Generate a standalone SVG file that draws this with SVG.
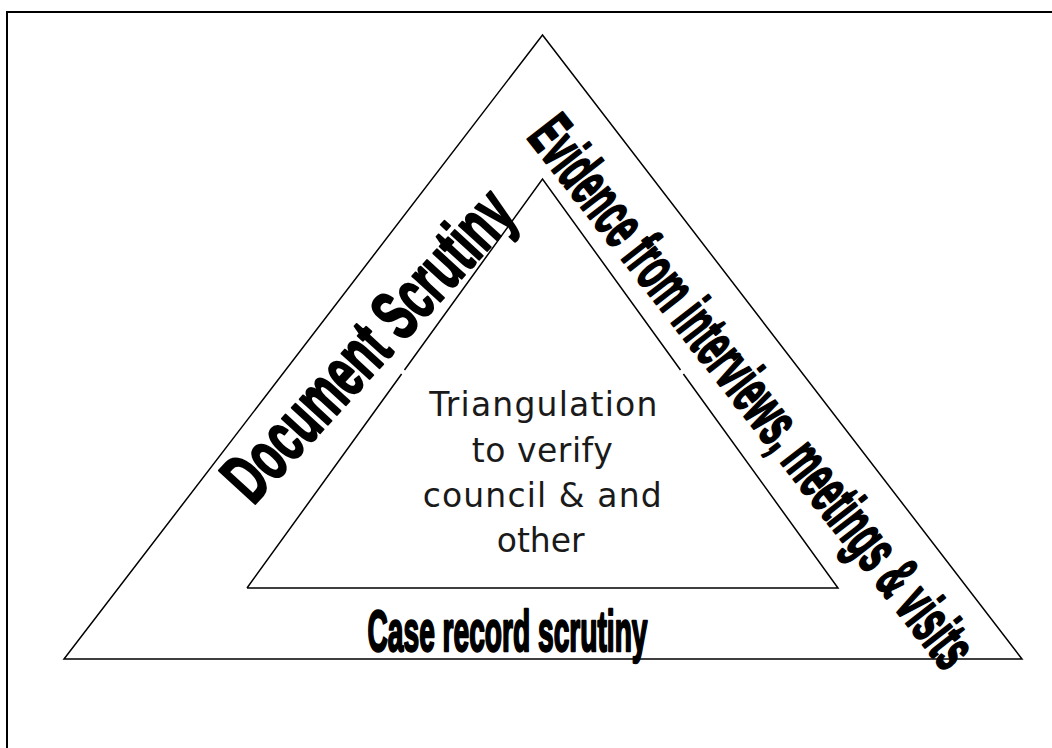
<svg xmlns="http://www.w3.org/2000/svg" width="1052" height="748" viewBox="0 0 1052 748">
  <style>
    .frame { fill: none; stroke: #000; stroke-width: 2; }
    .tri { fill: none; stroke: #000; stroke-width: 1.5; stroke-linejoin: miter; }
    .bold { font-family: "Liberation Sans", Arial, sans-serif; font-weight: bold; fill: #000; stroke: #000; stroke-width: 2.4; stroke-linejoin: round; }
    .body { font-family: "DejaVu Sans", Verdana, sans-serif; font-size: 33px; fill: #1a1a1a; }
  </style>
  <rect width="1052" height="748" fill="#fff"/>
  <path class="frame" d="M7,748 V12 H1052"/>
  <g id="outer-triangle">
    <polygon class="tri" points="542.5,35 1022,659 64,659"/>
  </g>
  <g id="inner-triangle">
    <path class="tri" d="M247,588 L401.6,374 M404.5,370 L542.5,179 L680.5,370 M683.4,374 L838,588 L247,588"/>
    <text class="body" x="429.3" y="415.7" textLength="228">Triangulation</text>
    <text class="body" x="471.7" y="461.7" textLength="141">to verify</text>
    <text class="body" x="422.7" y="506.7" textLength="239">council &amp; and</text>
    <text class="body" x="496.7" y="551.7" textLength="88">other</text>
  </g>
  <g id="document-scrutiny">
    <text class="bold" transform="translate(253,506) rotate(-47.5)" x="0" y="0" font-size="71" textLength="393" lengthAdjust="spacingAndGlyphs">Document Scrutiny</text>
  </g>
  <g id="evidence">
    <text class="bold" transform="translate(526,137) rotate(52)" x="0" y="0" font-size="64" textLength="680" lengthAdjust="spacingAndGlyphs">Evidence from interviews, meetings &amp; visits</text>
  </g>
  <g id="case-record">
    <text class="bold" x="367.5" y="651" font-size="57" textLength="280" lengthAdjust="spacingAndGlyphs">Case record scrutiny</text>
  </g>
  <g id="connectors"></g>
</svg>
